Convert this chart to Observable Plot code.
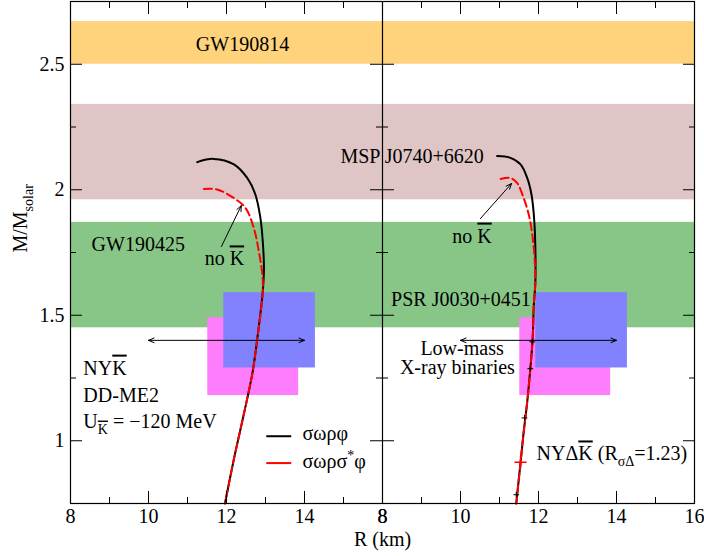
<!DOCTYPE html>
<html><head><meta charset="utf-8">
<script src="https://cdn.jsdelivr.net/npm/d3@7"></script>
<script src="https://cdn.jsdelivr.net/npm/@observablehq/plot@0.6"></script>
<style>
html,body{margin:0;padding:0;background:#fff;}
#chart svg{display:block;}
#chart svg text, #chart svg tspan{font-family:"Liberation Serif","Times New Roman",serif;}
</style>
</head><body><div id="chart"></div>
<script>
// ---------- data ----------
const panels = ["left", "right"];
const panelShift = {left: 0, right: 8}; // right panel is drawn after the left one on a shared axis

// observational mass bands (M/Msolar)
const bandNames = ["GW190814", "MSP J0740+6620", "GW190425"];
const bandLow  = [2.50, 1.96, 1.45];
const bandHigh = [2.67, 2.34, 1.87];

// NICER PSR J0030+0451 boxes (R in km, M in Msolar)
const nicerNames = ["Riley et al.", "Miller et al."];
const nicerRmin = [11.52, 11.93];
const nicerRmax = [13.85, 14.28];
const nicerMmin = [1.18, 1.29];
const nicerMmax = [1.49, 1.59];

// Left panel: NY Kbar, DD-ME2, U_K = -120 MeV
const leftSolidR  = [11.25, 11.67, 12.19, 12.53, 12.74, 12.87, 12.93, 12.96, 12.93, 12.79, 12.67, 12.53, 12.36, 12.19, 11.96];
const leftSolidM  = [2.110, 2.123, 2.101, 2.047, 1.981, 1.887, 1.794, 1.687, 1.594, 1.407, 1.274, 1.167, 1.047, 0.927, 0.750];
const leftDashR   = [11.42, 11.76, 12.19, 12.49, 12.70, 12.83, 12.92, 12.93, 12.79, 12.67, 12.53, 12.36, 12.19, 11.96];
const leftDashM   = [2.003, 2.001, 1.967, 1.927, 1.847, 1.754, 1.661, 1.594, 1.407, 1.274, 1.167, 1.047, 0.927, 0.750];

// Right panel: NY Delta Kbar (R_sigmaDelta = 1.23)
const rightSolidR = [10.94, 11.28, 11.54, 11.71, 11.82, 11.88, 11.91, 11.92, 11.88, 11.85, 11.79, 11.71, 11.62, 11.54, 11.43];
const rightSolidM = [2.134, 2.127, 2.101, 2.047, 1.981, 1.901, 1.821, 1.634, 1.541, 1.407, 1.287, 1.154, 1.034, 0.914, 0.750];
const rightDashR  = [11.03, 11.28, 11.45, 11.62, 11.75, 11.83, 11.88, 11.91, 11.92, 11.88, 11.85, 11.79, 11.71, 11.62, 11.54, 11.43];
const rightDashM  = [2.043, 2.047, 2.027, 1.967, 1.901, 1.834, 1.767, 1.700, 1.634, 1.541, 1.407, 1.287, 1.154, 1.034, 0.914, 0.750];

// symbols on the right-panel curves
const solidMarkR = [11.84, 11.79, 11.64, 11.43];
const solidMarkM = [1.394, 1.287, 1.091, 0.785];
const dashMarkR  = [11.54];
const dashMarkM  = [0.914];

// axis ticks (per panel) and labels
const xMajorTicks = [8, 10, 12, 14, 16];
const xMinorTicks = [9, 11, 13, 15];
const yMajorTicks = [1, 1.5, 2, 2.5];
const yMinorTicks = [1.25, 1.75, 2.25];
const legendNames = ["σωρφ", "σωρσ*φ"];

// ---------- derived tables ----------
const X = (panel, r) => r + panelShift[panel];
const series = (panel, kind, R, M) => R.map((r, i) => ({panel, kind, x: X(panel, r), M: M[i]}));
const curves = [
  ...series("left", "solid", leftSolidR, leftSolidM),
  ...series("left", "dash", leftDashR, leftDashM),
  ...series("right", "solid", rightSolidR, rightSolidM),
  ...series("right", "dash", rightDashR, rightDashM)
];
const bands = bandNames.map((n, i) => ({name: n, lo: bandLow[i], hi: bandHigh[i]}));
const nicer = panels.flatMap(p => nicerNames.map((n, i) => ({
  panel: p, name: n, x1: X(p, nicerRmin[i]), x2: X(p, nicerRmax[i]), y1: nicerMmin[i], y2: nicerMmax[i]
})));
const solidMarks = solidMarkR.map((r, i) => ({x: X("right", r), M: solidMarkM[i]}));
const dashMarks = dashMarkR.map((r, i) => ({x: X("right", r), M: dashMarkM[i]}));
const xMajor = panels.flatMap(p => xMajorTicks.map(t => X(p, t)));
const xMinor = panels.flatMap(p => xMinorTicks.map(t => X(p, t)));
const xFmt = d => String(d <= 14 ? d : d - 8);

const bandColor = {"GW190814": "#ffd27c", "MSP J0740+6620": "#dfc5c5", "GW190425": "#88c688"};
const nicerColor = {"Riley et al.": "#fd7dfd", "Miller et al.": "#8282ff"};

// annotations (panel, R, M)
const labels = [
  {p: "left", r: 12.41, m: 2.580, t: "GW190814", a: "middle"},
  {p: "left", r: 14.92, m: 2.134, t: "MSP J0740+6620", a: "start"},
  {p: "left", r: 8.54, m: 1.783, t: "GW190425", a: "start"},
  {p: "right", r: 8.22, m: 1.564, t: "PSR J0030+0451", a: "start"},
  {p: "right", r: 10.04, m: 1.369, t: "Low-mass", a: "middle"},
  {p: "right", r: 9.92, m: 1.290, t: "X-ray binaries", a: "middle"},
  {p: "left", r: 8.33, m: 1.289, t: "NYK", a: "start"},
  {p: "left", r: 8.33, m: 1.178, t: "DD-ME2", a: "start"},
  {p: "left", r: 8.33, m: 1.078, t: "UK = −120 MeV", a: "start"},
  {p: "left", r: 11.44, m: 1.724, t: "no K", a: "start"},
  {p: "right", r: 9.79, m: 1.815, t: "no K", a: "start"},
  {p: "right", r: 11.95, m: 0.947, t: "NYΔK (RσΔ=1.23)", a: "start"},
  {p: "left", r: 13.95, m: 1.027, t: legendNames[0], a: "start"},
  {p: "left", r: 13.95, m: 0.915, t: legendNames[1], a: "start"}
].map(d => ({...d, x: X(d.p, d.r)}));

const pointers = [
  {x1: X("left", 11.87), y1: 1.774, x2: X("left", 12.38), y2: 1.937},
  {x1: X("right", 10.51), y1: 1.885, x2: X("right", 11.31), y2: 2.025}
];
const spans = panels.flatMap(p => [
  {x1: X(p, 12), x2: X(p, 10), y: 1.40},
  {x1: X(p, 12), x2: X(p, 14), y: 1.40}
]);
const legendLines = [
  {kind: "solid", x1: X("left", 13.02), x2: X("left", 13.66), y: 1.018},
  {kind: "dash", x1: X("left", 13.02), x2: X("left", 13.66), y: 0.911}
];

const strokeOf = k => k === "solid" ? "black" : "#ff0000";
const FS = 20;
const FF = "Liberation Serif";

const plot = Plot.plot({
  width: 704, height: 556,
  marginLeft: 70, marginRight: 10, marginTop: 1, marginBottom: 53,
  x: {domain: [8, 24], axis: null},
  y: {domain: [0.75, 2.75], axis: null},
  style: {fontSize: "20px", background: "white", color: "black"},
  marks: [
    Plot.rect(bands, {x1: 8, x2: 24, y1: "lo", y2: "hi", fill: d => bandColor[d.name]}),
    Plot.rect(nicer, {x1: "x1", x2: "x2", y1: "y1", y2: "y2", fill: d => nicerColor[d.name]}),
    Plot.text(labels.filter(d => d.a === "start"), {x: "x", y: "m", text: "t", textAnchor: "start", fontSize: FS, fontFamily: FF, fill: "black"}),
    Plot.text(labels.filter(d => d.a === "middle"), {x: "x", y: "m", text: "t", textAnchor: "middle", fontSize: FS, fontFamily: FF, fill: "black"}),
    Plot.line(curves.filter(d => d.kind === "solid"), {x: "x", y: "M", z: "panel", stroke: "black", strokeWidth: 2, curve: "catmull-rom"}),
    Plot.line(curves.filter(d => d.kind === "dash"), {x: "x", y: "M", z: "panel", stroke: "#ff0000", strokeWidth: 2, strokeDasharray: "8,4", curve: "catmull-rom"}),
    Plot.dot(solidMarks, {x: "x", y: "M", symbol: "plus", r: 2, stroke: "black", strokeWidth: 1}),
    Plot.dot(dashMarks, {x: "x", y: "M", symbol: "plus", r: 4, stroke: "#ff0000", strokeWidth: 1.5}),
    Plot.arrow(pointers, {x1: "x1", y1: "y1", x2: "x2", y2: "y2", stroke: "black", strokeWidth: 1, headLength: 9, headAngle: 45}),
    Plot.arrow(spans, {x1: "x1", y1: "y", x2: "x2", y2: "y", stroke: "black", strokeWidth: 1, headLength: 9, headAngle: 45}),
    Plot.link(legendLines, {x1: "x1", x2: "x2", y1: "y", y2: "y", stroke: d => strokeOf(d.kind), strokeWidth: 2,
      strokeDasharray: d => d.kind === "dash" ? "9,6" : null}),
    Plot.ruleX([16], {stroke: "black", strokeWidth: 1.2}),
    Plot.frame({stroke: "black", strokeWidth: 1.2}),
    // ticks pointing inward
    Plot.axisX({anchor: "bottom", ticks: xMajor, tickSize: -12, fill: "none", stroke: "black", label: null}),
    Plot.axisX({anchor: "bottom", ticks: xMinor, tickSize: -6, fill: "none", stroke: "black", label: null}),
    Plot.axisX({anchor: "top", ticks: xMajor, tickSize: -12, fill: "none", stroke: "black", label: null}),
    Plot.axisX({anchor: "top", ticks: xMinor, tickSize: -6, fill: "none", stroke: "black", label: null}),
    Plot.axisY({anchor: "left", ticks: yMajorTicks, tickSize: -12, fill: "none", stroke: "black", label: null}),
    Plot.axisY({anchor: "left", ticks: yMinorTicks, tickSize: -6, fill: "none", stroke: "black", label: null}),
    Plot.axisY({anchor: "right", ticks: yMajorTicks, tickSize: -12, fill: "none", stroke: "black", label: null}),
    Plot.axisY({anchor: "right", ticks: yMinorTicks, tickSize: -6, fill: "none", stroke: "black", label: null}),
    Plot.ruleY(yMajorTicks, {y: d => d, x1: 16, x2: 16, insetLeft: -12, insetRight: -12, stroke: "black"}),
    Plot.ruleY(yMinorTicks, {y: d => d, x1: 16, x2: 16, insetLeft: -6, insetRight: -6, stroke: "black"}),
    // tick labels
    Plot.axisX({anchor: "bottom", ticks: xMajor, tickSize: 0, tickPadding: 5, tickFormat: xFmt, fontSize: FS, fontFamily: FF, fill: "black", label: null}),
    Plot.axisY({anchor: "left", ticks: yMajorTicks, tickSize: 0, tickPadding: 6, tickFormat: d => String(d), fontSize: FS, fontFamily: FF, fill: "black", label: null}),
    // axis titles
    Plot.text(["R (km)"], {text: d => d, frameAnchor: "bottom", lineAnchor: "top", dy: 28, fontSize: FS, fontFamily: FF, fill: "black"}),
    Plot.text(["M/Msolar"], {text: d => d, frameAnchor: "left", rotate: -90, dx: -50, fontSize: FS, fontFamily: FF, fill: "black"})
  ]
});

// rich text: sub/superscripts and overlines
const rich = {
  "M/Msolar": [["M/M"], ["solar", "sub"]],
  "no K": [["no "], ["K", "over"]],
  "NYK": [["NY"], ["K", "over"]],
  "UK = −120 MeV": [["U"], ["K", "subover"], [" = −120 MeV"]],
  "σωρσ*φ": [["σωρσ"], ["*", "sup"], ["φ"]],
  "NYΔK (RσΔ=1.23)": [["NYΔ"], ["K", "over"], [" (R"], ["σΔ", "sub"], ["=1.23)"]]
};
d3.select(plot).selectAll("text").each(function() {
  const parts = rich[this.textContent];
  if (!parts) return;
  const el = d3.select(this).style("white-space", "pre");
  el.text(null);
  let shift = 0;
  for (const [s, kind = ""] of parts) {
    const sub = kind.includes("sub"), sup = kind === "sup";
    const target = sub ? 6 : sup ? -8 : 0;
    const ts = el.append("tspan").text(s).attr("dy", target - shift);
    shift = target;
    if (sub || sup) ts.attr("font-size", 14);
    if (kind.includes("over")) ts.style("text-decoration", "overline");
  }
});

document.getElementById("chart").append(plot);
</script>
</body></html>
